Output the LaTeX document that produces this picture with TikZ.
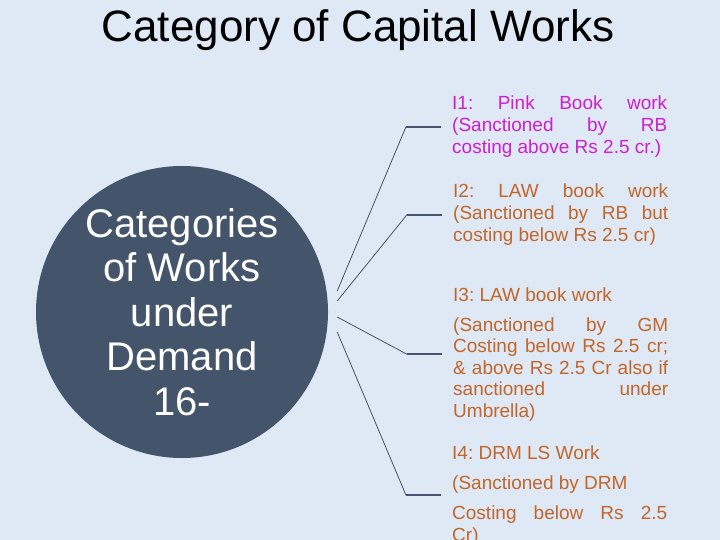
\documentclass[tikz,border=0pt]{standalone}
\usepackage{fontspec}
\setmainfont{Liberation Sans}
\usepackage{tikz}
\usetikzlibrary{calc, positioning}
\definecolor{bgblue}{RGB}{222,233,245}
\definecolor{hubblue}{RGB}{68,84,106}
\definecolor{pinkink}{RGB}{207,30,207}
\definecolor{brownink}{RGB}{194,102,42}
\frenchspacing
\tikzset{
  hub/.style    = {circle, fill=hubblue, minimum size=292bp, inner sep=0pt, text=white,
                   align=center, font=\fontsize{40bp}{44.5bp}\selectfont},
  item/.style   = {anchor=base west, text width=215bp, align=justify, inner sep=0pt,
                   font=\fontsize{19bp}{21.6bp}\selectfont},
  spoke/.style  = {hubblue, line width=0.8bp},
  stub/.style   = {hubblue, line width=2bp},
}
% bent connector: start point, text node
\newcommand{\branch}[2]{%
  \draw[spoke] (#1) -- ([xshift=-46bp]#2.west) coordinate (#2k);
  \draw[stub] (#2k) -- ([xshift=-11bp]#2.west);
}
\begin{document}
\begin{tikzpicture}[x=1bp, y=-1bp]
  \fill[bgblue] (0,0) rectangle (720,540);
  \useasboundingbox (0,0) rectangle (720,540);
  \node[anchor=base, font=\fontsize{44bp}{52bp}\selectfont] (title) at (358,42) {Category of Capital Works};
  \node[hub] (works) at (182,312) {Categories\\of Works\\under\\Demand\\16-};
  % the four categories
  \node[item, text=pinkink] (i1) at (452,110)
    {I1: Pink Book work\linebreak (Sanctioned by RB\linebreak costing above Rs 2.5 cr.)};
  \node[item, text=brownink] (i2) at (453,198)
    {I2: LAW book work\linebreak (Sanctioned by RB but\linebreak costing below Rs 2.5 cr)};
  \node[item, text=brownink] (i3) at (453,301)
    {I3: LAW book work\par\vspace{8.4bp}(Sanctioned by GM\linebreak Costing below Rs 2.5 cr;\linebreak
     \& above Rs 2.5 Cr also if\linebreak sanctioned under\linebreak Umbrella)};
  \node[item, text=brownink] (i4) at (452,459)
    {I4: DRM LS Work\par\vspace{8.4bp}(Sanctioned by DRM\par\vspace{9bp}Costing below Rs 2.5\linebreak Cr)};
  \coordinate (s1) at ([shift={(9,-21)}]works.east);
  \coordinate (s2) at ([shift={(9,-11)}]works.east);
  \coordinate (s3) at ([shift={(9,5)}]works.east);
  \coordinate (s4) at ([shift={(9,20)}]works.east);
  \branch{s1}{i1}
  \branch{s2}{i2}
  \branch{s3}{i3}
  \branch{s4}{i4}
\end{tikzpicture}
\end{document}
